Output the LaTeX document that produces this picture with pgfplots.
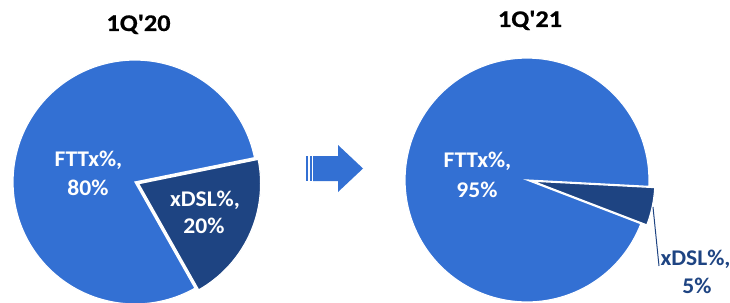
\documentclass[border=0pt]{standalone}
\usepackage{pgfplots}
\pgfplotsset{compat=1.18}
\usepackage{fontspec}
\setmainfont{Carlito}
\newfontfamily\lblfont{Carlito}[FakeStretch=1.05]
\newfontfamily\ttlfont{Carlito}[FakeStretch=1.1,FakeBold=0.6,Ligatures=TeXOff]
\definecolor{fttx}{RGB}{51,112,211}
\definecolor{xdsl}{RGB}{30,68,130}
% shares (%)
\def\FTTxA{80}\def\xDSLA{20}   % 1Q'20
\def\FTTxB{95}\def\xDSLB{5}    % 1Q'21
\tikzset{lbl/.style={anchor=base,font=\lblfont\fontsize{22.5}{26}\selectfont\bfseries},
  ttl/.style={anchor=base,font=\ttlfont\fontsize{24}{28}\selectfont\bfseries}}
\begin{document}
\begin{tikzpicture}
\pgfmathsetmacro{\sA}{-60.5}
\pgfmathsetmacro{\mA}{\sA+3.6*\xDSLA}
\pgfmathsetmacro{\eA}{\mA+3.6*\FTTxA}
\pgfmathsetmacro{\sB}{-21}
\pgfmathsetmacro{\mB}{\sB+3.6*\xDSLB}
\pgfmathsetmacro{\eB}{\mB+3.6*\FTTxB}
\begin{axis}[width=730bp,height=302bp,scale only axis,hide axis,
  xmin=0,xmax=730,ymin=0,ymax=302,y dir=reverse,clip=true,samples=150]
% 1Q'20
\addplot[fill=fttx,draw=white,line width=1.2bp,domain=\mA:\eA] ({135+122*cos(x)},{182-122*sin(x)}) -- (135,182) -- cycle;
\addplot[fill=xdsl,draw=white,line width=1.2bp,domain=\sA:\mA] ({138.6+122*cos(x)},{183.7-122*sin(x)}) -- (138.6,183.7) -- cycle;
% 1Q'21
\addplot[fill=fttx,draw=white,line width=1.2bp,domain=\mB:\eB] ({527+122*cos(x)},{180-122*sin(x)}) -- (527,180) -- cycle;
\addplot[fill=xdsl,draw=white,line width=1.2bp,domain=\sB:\mB] ({532.9+122*cos(x)},{181.2-122*sin(x)}) -- (532.9,181.2) -- cycle;
% leader line
\addplot[xdsl,line width=1bp] coordinates {(653,207) (659,266)};
% arrow
\addplot[fill=fttx,draw=none] coordinates {(313,156) (338,156) (338,145) (363,168.5) (338,192) (338,181) (313,181)} -- cycle;
\addplot[fill=fttx,draw=none] coordinates {(306,156) (308,156) (308,181) (306,181)} -- cycle;
\addplot[fill=fttx,draw=none] coordinates {(309.5,156) (311.5,156) (311.5,181) (309.5,181)} -- cycle;
% titles
\node[ttl,text=black] at (138.5,31) {1Q'20};
\node[ttl,text=black] at (530,27) {1Q'21};
% labels
\node[lbl,text=white] at (88.5,166) {FTTx\%,};
\node[lbl,text=white] at (88,195) {80\%};
\node[lbl,text=white] at (205,206) {xDSL\%,};
\node[lbl,text=white] at (204,233) {20\%};
\node[lbl,text=white] at (477.5,167) {FTTx\%,};
\node[lbl,text=white] at (477,197) {95\%};
\node[lbl,text=xdsl] at (695.5,265) {xDSL\%,};
\node[lbl,text=xdsl] at (697,293) {5\%};
\end{axis}
\pgfresetboundingbox
\path (current axis.south west) rectangle (current axis.north east);
\end{tikzpicture}
\end{document}
